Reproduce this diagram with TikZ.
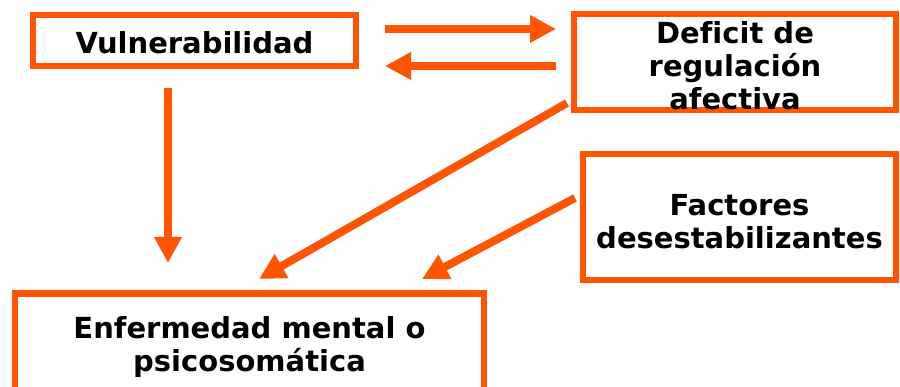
\documentclass[tikz,border=0pt]{standalone}
\usepackage{fontspec}
\setmainfont{DejaVu Sans}[Ligatures=CommonOff]
\usetikzlibrary{arrows.meta,calc}
\definecolor{orng}{RGB}{255,84,0}
\newcommand{\boxtext}[2]{\smash{\raisebox{#1}{\begin{tabular}{@{}c@{}}#2\end{tabular}}}}
\tikzset{
  box/.style={draw=orng, line width=6.5pt, rectangle, inner sep=0pt, outer sep=0pt, align=center,
    font=\fontsize{29}{33}\selectfont\bfseries},
  arr/.style={draw=orng, line width=8pt, -{Triangle[length=26pt,width=26pt]}, color=orng},
}
\begin{document}
\begin{tikzpicture}[x=1pt,y=-1pt]
\useasboundingbox (0,0) rectangle (900,387);
\begin{scope}
\clip (0,0) rectangle (900,387);
\node[box, minimum width=323pt, minimum height=51pt] (vul) at (194.5,40.5) {\boxtext{-13pt}{Vulnerabilidad}};
\node[box, minimum width=322pt, minimum height=96pt] (def) at (735,62) {\boxtext{-14pt}{Deficit de\\regulación\\afectiva}};
\node[box, minimum width=313pt, minimum height=126pt] (fac) at (739.5,217) {\boxtext{-15pt}{Factores\\desestabilizantes}};
\node[box, minimum width=469pt, minimum height=101pt] (enf) at (249.5,344) {\boxtext{-11pt}{Enfermedad mental o\\psicosomática}};
\end{scope}
\draw[arr] ($(vul.north east)+(29,14)$) -- ($(def.north west)+(-18,15)$);
\draw[arr] ($(def.west)+(-18,4)$) -- ($(vul.south east)+(29,0)$);
\draw[arr] ($(vul.south)+(-26.5,22)$) -- ($(enf.north)+(-81.5,-30.5)$);
\draw[arr] ($(def.south west)+(-7,-7)$) -- ($(enf.north)+(9.5,-14.5)$);
\draw[arr] ($(fac.west)+(-8,-19)$) -- ($(enf.north east)+(-62,-14.5)$);
\end{tikzpicture}
\end{document}
